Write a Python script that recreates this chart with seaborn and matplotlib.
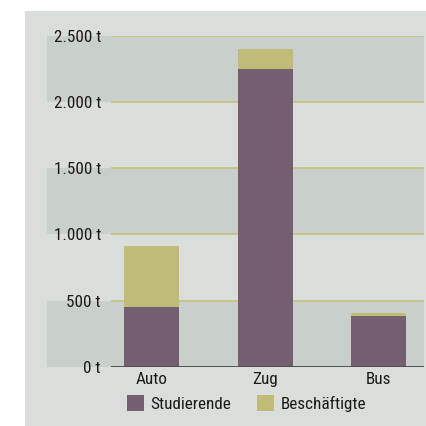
import matplotlib
matplotlib.use("Agg")
import matplotlib.pyplot as plt
from matplotlib.patches import Rectangle, Patch
import matplotlib.transforms as mtransforms
from matplotlib import font_manager
import pandas as pd
import seaborn as sns

# === DATA ===
modes = ["Auto", "Zug", "Bus"]
studierende = [455, 2250, 385]
beschaeftigte = [460, 150, 20]
y_ticks = [0, 500, 1000, 1500, 2000, 2500]
y_labels = ["0 t", "500 t", "1.000 t", "1.500 t", "2.000 t", "2.500 t"]
legend_labels = ["Studierende", "Beschäftigte"]

# === STYLE ===
PURPLE = "#745f70"
OLIVE = "#c1bb78"
PANEL = "#d9dedb"
BAND = "#c9cfcb"
GRID = "#c8c07a"
TEXT = "#1a1a1a"

sns.set_theme(style="white")
names = {f.name for f in font_manager.fontManager.ttflist}
narrow = [n for n in ["Liberation Sans Narrow", "DejaVu Sans Condensed", "Roboto Condensed"] if n in names]
plt.rcParams["font.family"] = narrow + ["DejaVu Sans"]

df = pd.DataFrame({"mode": modes, "Studierende": studierende, "Beschäftigte": beschaeftigte})
df["total"] = df["Studierende"] + df["Beschäftigte"]

W, H = 427, 426
fig = plt.figure(figsize=(W / 100, H / 100), dpi=100)
fig.patch.set_facecolor("white")
fig.patches.append(Rectangle((25 / W, 0), 1 - 25 / W, 1 - 11 / H, transform=fig.transFigure,
                             facecolor=PANEL, edgecolor="none", zorder=-5))

ax = fig.add_axes([111 / W, 59.3 / H, 313 / W, (390 - 59.3) / H])
ax.set_facecolor("none")

# alternating bands, reaching left under the tick labels
trans = mtransforms.blended_transform_factory(ax.transAxes, ax.transData)
for lo, hi in zip(y_ticks[:-1], y_ticks[1:]):
    if (lo // 500) % 2 == 0:
        ax.add_patch(Rectangle(((47 - 111) / 313, lo), 1 + 64 / 313, hi - lo, transform=trans,
                               facecolor=BAND, edgecolor="none", clip_on=False, zorder=0))

for yv in y_ticks[1:]:
    ax.axhline(yv, color=GRID, lw=1.2, zorder=1)
ax.axhline(0, color="#4a4a4a", lw=1.3, zorder=3)

sns.barplot(data=df, x="mode", y="total", color=OLIVE, width=0.485, saturation=1,
            edgecolor="none", ax=ax, zorder=2)
sns.barplot(data=df, x="mode", y="Studierende", color=PURPLE, width=0.485, saturation=1,
            edgecolor="none", ax=ax, zorder=2)

ax.set_xlim(-0.36, 2.402)
ax.set_ylim(0, 2500)
ax.set_yticks(y_ticks)
ax.set_yticklabels(y_labels)
ax.set_xlabel("")
ax.set_ylabel("")
ax.tick_params(axis="y", length=0, pad=7.2, labelsize=12.3, labelcolor=TEXT)
ax.tick_params(axis="x", length=0, pad=3.5, labelsize=12.3, labelcolor=TEXT)
for s in ax.spines.values():
    s.set_visible(False)

handles = [Patch(facecolor=PURPLE, edgecolor="none"), Patch(facecolor=OLIVE, edgecolor="none")]
fig.legend(handles, legend_labels, loc="center left", bbox_to_anchor=(126.7 / W, 1 - 403.5 / H),
           ncol=2, frameon=False, fontsize=12.3, handlelength=1.0, handleheight=1.0,
           handletextpad=0.4, columnspacing=1.5, borderpad=0, borderaxespad=0,
           labelcolor=TEXT)

fig.savefig("out.png", dpi=100, facecolor="white")
